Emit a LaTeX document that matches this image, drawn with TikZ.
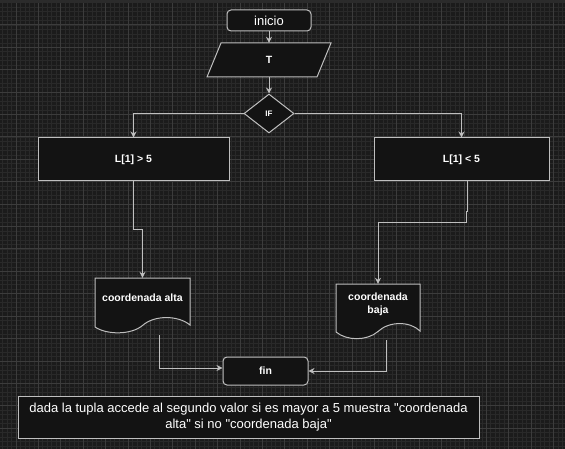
\documentclass[tikz,border=0pt]{standalone}
\usepackage{fontspec}
\setmainfont{Liberation Sans}
\usetikzlibrary{shapes.geometric,arrows.meta}
\definecolor{bgdark}{HTML}{1B1B1B}
\definecolor{topstrip}{HTML}{2B2B2B}
\definecolor{gridminor}{HTML}{292929}
\definecolor{gridmajor}{HTML}{3C3C3C}
\definecolor{boxfill}{HTML}{131313}
\definecolor{edgegray}{HTML}{BFBFBF}
\tikzset{
  box/.style={draw=edgegray, fill=boxfill, line width=1pt, text=white, inner sep=0pt},
  lbl/.style={text=white, inner sep=0pt, font=\fontsize{10.5}{13}\selectfont\bfseries},
  conn/.style={draw=edgegray, line width=1pt, -{Stealth[length=6pt,width=6pt,inset=2pt]}},
}
\begin{document}
\begin{tikzpicture}[x=1pt,y=-1pt]
  \useasboundingbox (0,0) rectangle (565,449);
  \fill[bgdark] (0,0) rectangle (565,449);
  \foreach \x in {2.56,7.04,...,565} \draw[gridminor, line width=0.8pt] (\x,0) -- (\x,449);
  \foreach \y in {2.6,7.08,...,449} \draw[gridminor, line width=0.8pt] (0,\y) -- (565,\y);
  \foreach \x in {16,38.4,...,565} \draw[gridmajor, line width=1pt] (\x,0) -- (\x,449);
  \foreach \y in {25,47.4,...,449} \draw[gridmajor, line width=1pt] (0,\y) -- (565,\y);
  \fill[topstrip] (0,0) rectangle (565,3);

  \node[box, rounded corners=4pt, minimum width=84, minimum height=21, font=\fontsize{13}{15}\selectfont] (inicio) at (269,20.5) {inicio};
  \draw[box] (221,43) -- (331,43) -- (317,77) -- (207,77) -- cycle;
  \node[lbl, minimum width=110, minimum height=34] (entrada) at (269,60) {T};
  \node[box, diamond, minimum width=50, minimum height=39, font=\fontsize{8}{9}\selectfont\bfseries] (cond) at (269,113.5) {IF};
  \node[box, lbl, minimum width=191, minimum height=43] (mayor) at (133.5,159.5) {L[1] > 5};
  \node[box, lbl, minimum width=175, minimum height=43] (menor) at (461.5,159.5) {L[1] < 5};

  \draw[box] (95,278) -- (190,278) -- (190,325) .. controls (178,315) and (154,315) .. (142.5,325.5) .. controls (131,335) and (107,335) .. (95,327) -- cycle;
  \node[lbl, minimum width=95, minimum height=40] (alta) at (142.5,298) {coordenada alta};
  \draw[box] (336,284) -- (420,284) -- (420,331) .. controls (410,321) and (389,321) .. (378,331.5) .. controls (367,341) and (347,341) .. (336,332) -- cycle;
  \node[lbl, minimum width=84, minimum height=41, align=center] (baja) at (378,304.5) {coordenada\\baja};

  \node[box, lbl, rounded corners=4pt, minimum width=85, minimum height=28] (fin) at (265.5,371) {fin};
  \node[box, minimum width=461, minimum height=42, align=center, font=\fontsize{13}{16}\selectfont] (nota) at (248.5,417) {dada la tupla accede al segundo valor si es mayor a 5 muestra \textquotedbl coordenada\\alta\textquotedbl{} si no \textquotedbl coordenada baja\textquotedbl};

  \draw[conn] (inicio) -- (entrada);
  \draw[conn] (entrada) -- (cond);
  \draw[conn] (cond.west) -| (mayor.north);
  \draw[conn] (cond.east) -| (menor.north);
  \draw[conn] (mayor.south) -- ++(0,48) -| (alta.north);
  \draw[conn] ([xshift=5.5pt]menor.south) -- ++(0,30) -- ++(-1,0) -- ++(0,11) -| (baja.north);
  \draw[conn] ([xshift=16.5pt,yshift=-17pt]alta.south) |- ([yshift=3pt]fin.west);
  \draw[conn] ([xshift=8pt,yshift=-15pt]baja.south) |- (fin.east);
\end{tikzpicture}
\end{document}
